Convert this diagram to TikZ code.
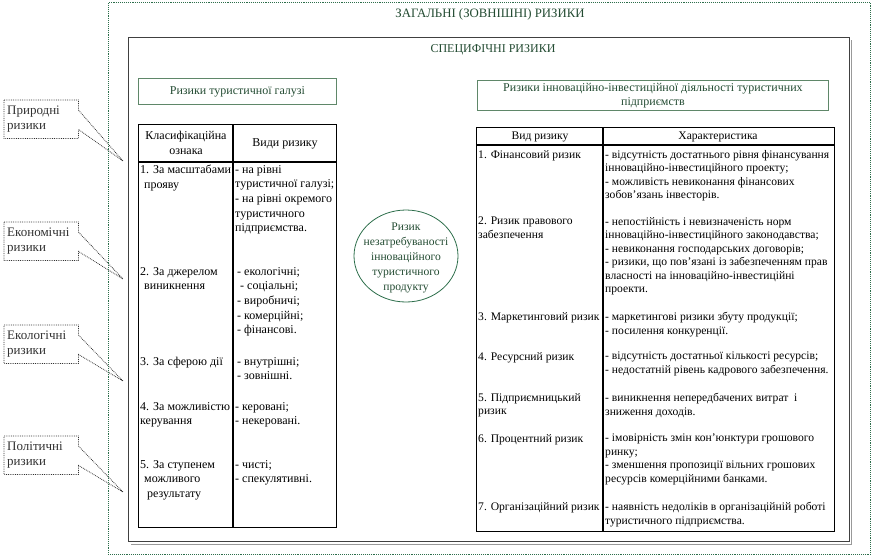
\documentclass[tikz,border=0pt]{standalone}
\usepackage{fontspec}
\setmainfont{Liberation Serif}
\usetikzlibrary{shapes.geometric,backgrounds}

\definecolor{zoneline}{RGB}{45,110,75}
\definecolor{headtxt}{RGB}{35,75,50}
\definecolor{headline}{RGB}{95,135,105}
\definecolor{calltxt}{RGB}{50,50,50}

\begin{document}
\begin{tikzpicture}[x=1pt, y=-1pt,
zone/.style={draw=zoneline, densely dotted, line width=0.9pt, anchor=north west},
inner/.style={draw=black!75, line width=1.1pt, anchor=north west},
head/.style={draw=headline, line width=0.9pt, anchor=north west, align=center, text=headtxt, font=\fontsize{12}{13.5}\selectfont},
tab/.style={draw=black, line width=1.1pt, anchor=north west},
ttl/.style={text=headtxt, font=\fontsize{12}{14}\selectfont},
cellL/.style={anchor=north west, align=left, inner sep=0pt, font=\fontsize{12}{14.7}\selectfont},
cellR/.style={anchor=north west, align=left, inner sep=0pt, font=\fontsize{11.6}{13.5}\selectfont},
note/.style={anchor=north west, minimum width=74pt, minimum height=38pt, text width=68pt, inner sep=3pt, align=left, text=calltxt, font=\fontsize{13}{15}\selectfont},
noteline/.style={draw=black!80, densely dotted, line width=0.8pt, fill=white}]

\useasboundingbox (0,0) rectangle (875,558);

\node[note] (nature) at (4,100) {Природні\\ризики};
\coordinate (natureTip) at (123,161);
\node[note] (econ) at (4,222) {Економічні\\ризики};
\coordinate (econTip) at (123,279);
\node[note] (ecol) at (4,325) {Екологічні\\ризики};
\coordinate (ecolTip) at (123,381);
\node[note] (polit) at (4,436) {Політичні\\ризики};
\coordinate (politTip) at (123,492);
\begin{scope}[on background layer]
\draw[noteline] (nature.north west) -- (nature.north east) -- ([yshift=-10pt]nature.north east) -- (natureTip) -- ([yshift=9pt]nature.south east) -- (nature.south east) -- (nature.south west) -- cycle;
\draw[noteline] (econ.north west) -- (econ.north east) -- ([yshift=-10pt]econ.north east) -- (econTip) -- ([yshift=9pt]econ.south east) -- (econ.south east) -- (econ.south west) -- cycle;
\draw[noteline] (ecol.north west) -- (ecol.north east) -- ([yshift=-10pt]ecol.north east) -- (ecolTip) -- ([yshift=9pt]ecol.south east) -- (ecol.south east) -- (ecol.south west) -- cycle;
\draw[noteline] (polit.north west) -- (polit.north east) -- ([yshift=-10pt]polit.north east) -- (politTip) -- ([yshift=9pt]polit.south east) -- (polit.south east) -- (polit.south west) -- cycle;
\end{scope}

\node[zone, minimum width=762pt, minimum height=552pt] (outer) at (108,2) {};
\node[ttl, font=\fontsize{12.8}{14}\selectfont] (general) at (490,14) {ЗАГАЛЬНІ (ЗОВНІШНІ) РИЗИКИ};
\draw[black!40, line width=0.8pt] (851,40) -- (851,544) -- (131,544);
\node[inner, minimum width=721pt, minimum height=504pt] (specbox) at (128,37) {};
\node[ttl] (specific) at (493,50) {СПЕЦИФІЧНІ РИЗИКИ};

\node[head, minimum width=198pt, minimum height=26pt] (tourhead) at (138,78) {Ризики туристичної галузі};
\node[head, minimum width=351pt, minimum height=30pt, inner sep=1pt] (innohead) at (477,80) {Ризики інноваційно-інвестиційної діяльності туристичних\\підприємств};

\node[tab, minimum width=198pt, minimum height=403pt] (classtab) at (138,124) {};
\draw[line width=1.1pt] (233,124) -- (233,527);
\draw[line width=1.1pt] (138,162) -- (336,162);
\node[cellL, anchor=center, align=center] (clsign) at (186,143) {Класифікаційна\\ознака};
\node[cellL, anchor=center] (cltype) at (285,144) {Види ризику};
\node[cellL] (sc1) at (140,165) {1. За масштабами\\\hspace*{4pt}прояву};
\node[cellL] (ty1) at (235,165) {- на рівні\\туристичної галузі;\\- на рівні окремого\\туристичного\\підприємства.};
\node[cellL] (sc2) at (140,267) {2. За джерелом\\\hspace*{4pt}виникнення};
\node[cellL] (ty2) at (237,267) {- екологічні;\\\hspace*{3pt}- соціальні;\\- виробничі;\\- комерційні;\\- фінансові.};
\node[cellL] (sc3) at (140,357) {3. За сферою дії};
\node[cellL] (ty3) at (237,357) {- внутрішні;\\- зовнішні.};
\node[cellL] (sc4) at (140,402) {4. За можливістю\\керування};
\node[cellL] (ty4) at (235,402) {- керовані;\\- некеровані.};
\node[cellL] (sc5) at (140,460) {5. За ступенем\\\hspace*{4pt}можливого\\\hspace*{7pt}результату};
\node[cellL] (ty5) at (235,460) {- чисті;\\- спекулятивні.};

\node[draw=zoneline, line width=0.8pt, ellipse, minimum width=104pt, minimum height=92pt] (product) at (406,256) {};
\node[align=center, text=headtxt, font=\fontsize{11.6}{15}\selectfont] (productlbl) at ([yshift=-1.5pt]product.center) {Ризик\\незатребуваності\\інноваційного\\туристичного\\продукту};

\node[tab, minimum width=358pt, minimum height=404pt] (innotab) at (476,127) {};
\draw[line width=1.1pt] (603,127) -- (603,531);
\draw[line width=1.1pt] (476,145) -- (834,145);
\node[cellR, anchor=center] (rkind) at (540,136.5) {Вид ризику};
\node[cellR, anchor=center] (rdesc) at (718,136.5) {Характеристика};
\node[cellR] (rk1) at (478,150) {1. Фінансовий ризик};
\node[cellR] (rd1) at (605,150) {- відсутність достатнього рівня фінансування\\інноваційно-інвестиційного проекту;\\- можливість невиконання фінансових\\зобов'язань інвесторів.};
\node[cellR] (rk2) at (478,217) {2. Ризик правового\\забезпечення};
\node[cellR] (rd2) at (605,217) {- непостійність і невизначеність норм\\інноваційно-інвестиційного законодавства;\\- невиконання господарських договорів;\\- ризики, що пов'язані із забезпеченням прав\\власності на інноваційно-інвестиційні\\проекти.};
\node[cellR] (rk3) at (478,312) {3. Маркетинговий ризик};
\node[cellR] (rd3) at (605,312) {- маркетингові ризики збуту продукції;\\- посилення конкуренції.};
\node[cellR] (rk4) at (478,352) {4. Ресурсний ризик};
\node[cellR] (rd4) at (605,352) {- відсутність достатньої кількості ресурсів;\\- недостатній рівень кадрового забезпечення.};
\node[cellR] (rk5) at (478,393) {5. Підприємницький\\ризик};
\node[cellR] (rd5) at (605,393) {- виникнення непередбачених витрат\ \ і\\зниження доходів.};
\node[cellR] (rk6) at (478,434) {6. Процентний ризик};
\node[cellR] (rd6) at (605,434) {- імовірність змін кон'юнктури грошового\\ринку;\\- зменшення пропозиції вільних грошових\\ресурсів комерційними банками.};
\node[cellR] (rk7) at (478,502) {7. Організаційний ризик};
\node[cellR] (rd7) at (605,502) {- наявність недоліків в організаційній роботі\\туристичного підприємства.};
\end{tikzpicture}
\end{document}
